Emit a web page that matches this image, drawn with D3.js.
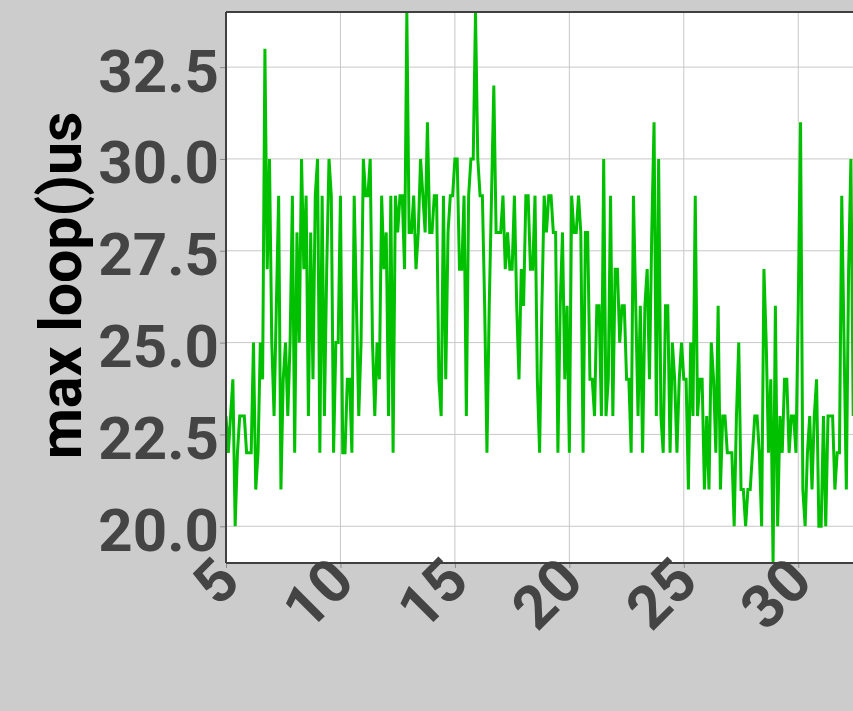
<!DOCTYPE html>
<html>
<head>
<meta charset="utf-8">
<script src="https://cdn.jsdelivr.net/npm/d3@7"></script>
<style>
  body { margin: 0; background: #cccccc; overflow: hidden; }
  svg { display: block; }
  .tick text { font-family: Roboto, sans-serif; font-weight: bold; fill: #444444; }
</style>
</head>
<body>
<div id="chart"></div>
<script>

// sample times: first sample and spacing (s)
const tStart = 5;
const tStep = 0.1;

// max loop() time per sample, in us
const maxLoopUs = [
  23,22,23,24,20,22,23,23,23,22,22,22,25,21,22,25,24,33,27,30,25,23,26,29,21,24,25,23,25,29,22,28,25,30,27,29,23,28,24,29,30,
  22,29,23,27,30,29,22,25,25,29,22,22,24,24,22,29,26,23,25,30,29,29,30,25,23,25,24,29,27,28,23,29,22,29,28,29,29,27,34,28,28,29,27,28,
  30,29,28,31,28,28,29,29,24,23,29,24,28,29,29,30,30,27,27,29,23,29,30,30,34,30,29,29,26,22,26,29,32,28,28,28,29,27,28,27,27,29,26,24,27,26,29,29,
  27,27,29,24,22,26,29,28,29,29,28,28,22,26,28,24,26,22,29,28,28,29,28,22,28,28,24,24,23,26,26,23,30,23,24,29,23,27,27,25,26,26,
  24,24,22,29,26,23,26,22,26,27,24,28,31,23,30,23,22,26,26,22,25,24,22,24,25,24,24,21,25,23,29,23,24,24,21,23,21,25,24,22,26,21,23,23,22,
  22,22,20,23,25,21,21,20,21,21,22,23,23,22,20,27,25,22,24,19,26,20,23,22,24,24,22,23,23,22,26,31,21,20,22,23,21,23,24,20,20,23,20,23,23,23,21,22,22,29,25,21,27,30,23
];

const xTickValues = [5, 10, 15, 20, 25, 30];
const yTickValues = [20, 22.5, 25, 27.5, 30, 32.5];
const yLabel = 'max loop()us';

class LinePlot {
    constructor(_config, _data) {
        this.config = {
            parentElement: _config.parentElement,
            containerWidth: _config.containerWidth || 853,
            containerHeight: _config.containerHeight || 711,
            margin: _config.margin || {top: 12, left: 226, bottom: 148},
            plotWidth: _config.plotWidth || 627.2
        }
        this.data = _data;
        this.initVis();
    }
    initVis() {
        let vis = this;
        vis.width = vis.config.plotWidth;
        vis.height = vis.config.containerHeight - vis.config.margin.top - vis.config.margin.bottom;

        vis.xScale = d3.scaleLinear().range([0, vis.width]);
        vis.yScale = d3.scaleLinear().range([vis.height, 0]);

        vis.xAxis = d3.axisBottom(vis.xScale)
            .tickValues(xTickValues)
            .tickSize(5)
            .tickFormat(d3.format('d'));
        vis.yAxis = d3.axisLeft(vis.yScale)
            .tickValues(yTickValues)
            .tickSize(6)
            .tickPadding(1)
            .tickFormat(d3.format('.1f'));

        vis.svg = d3.select(vis.config.parentElement).append('svg')
            .attr('width', vis.config.containerWidth)
            .attr('height', vis.config.containerHeight);

        vis.svg.append('defs').append('clipPath')
            .attr('id', 'plot-clip')
          .append('rect')
            .attr('width', vis.width)
            .attr('height', vis.height);

        vis.visG = vis.svg.append('g')
            .attr('transform', `translate(${vis.config.margin.left},${vis.config.margin.top})`);

        // white panel
        vis.visG.append('rect')
            .attr('width', vis.width)
            .attr('height', vis.height)
            .attr('fill', '#ffffff');

        vis.gridG = vis.visG.append('g');
        vis.lineG = vis.visG.append('g').attr('clip-path', 'url(#plot-clip)');

        vis.xAxisG = vis.visG.append('g')
            .attr('transform', `translate(0,${vis.height})`);
        vis.yAxisG = vis.visG.append('g');

        vis.svg.append('text')
            .attr('transform', `translate(81,${vis.config.margin.top + vis.height / 2 - 2}) rotate(-90)`)
            .attr('text-anchor', 'middle')
            .style('font-family', 'Roboto, sans-serif')
            .style('font-weight', 'bold')
            .style('font-size', '59px')
            .attr('fill', '#000000')
            .text(yLabel);
    }
    updateVis() {
        let vis = this;
        vis.xValue = (d, i) => tStart + i * tStep;
        vis.xScale.domain(d3.extent(vis.data, vis.xValue));
        vis.yScale.domain(d3.extent(vis.data));
        vis.renderVis();
    }
    renderVis() {
        let vis = this;

        // grid lines on major ticks
        vis.gridG.selectAll('.gx').data(xTickValues).join('line')
            .attr('class', 'gx')
            .attr('x1', d => vis.xScale(d)).attr('x2', d => vis.xScale(d))
            .attr('y1', 0).attr('y2', vis.height)
            .attr('stroke', '#c8c8c8').attr('stroke-width', 1);
        vis.gridG.selectAll('.gy').data(yTickValues).join('line')
            .attr('class', 'gy')
            .attr('x1', 0).attr('x2', vis.width)
            .attr('y1', d => vis.yScale(d)).attr('y2', d => vis.yScale(d))
            .attr('stroke', '#c8c8c8').attr('stroke-width', 1);

        const line = d3.line()
            .x((d, i) => vis.xScale(vis.xValue(d, i)))
            .y(d => vis.yScale(d));

        vis.lineG.selectAll('path').data([vis.data]).join('path')
            .attr('d', line)
            .attr('fill', 'none')
            .attr('stroke', '#00c000')
            .attr('stroke-width', 3)
            .attr('stroke-linejoin', 'miter')
            .attr('stroke-miterlimit', 4);

        vis.xAxisG.call(vis.xAxis);
        vis.yAxisG.call(vis.yAxis);

        [vis.xAxisG, vis.yAxisG].forEach(g => {
            g.select('.domain').remove();
            g.selectAll('.tick line').attr('stroke', '#8a8a8a');
            g.selectAll('.tick text').style('font-size', '60px');
        });
        vis.yAxisG.selectAll('.tick text').attr('dy', '0.40em');
        vis.xAxisG.selectAll('.tick text')
            .attr('x', 0).attr('y', 0).attr('dy', 0)
            .attr('text-anchor', 'end')
            .attr('transform', 'translate(16,21) rotate(-45)');

        // panel border: top, left, bottom
        vis.visG.selectAll('.border').data([
            [[0, 0], [vis.width, 0]],
            [[0, 0], [0, vis.height]],
            [[0, vis.height], [vis.width, vis.height]]
        ]).join('path')
            .attr('class', 'border')
            .attr('d', d => d3.line()(d))
            .attr('stroke', '#404040')
            .attr('stroke-width', 2)
            .attr('fill', 'none');
    }
}

const plot = new LinePlot({parentElement: '#chart'}, maxLoopUs);
plot.updateVis();
</script>
</body>
</html>
